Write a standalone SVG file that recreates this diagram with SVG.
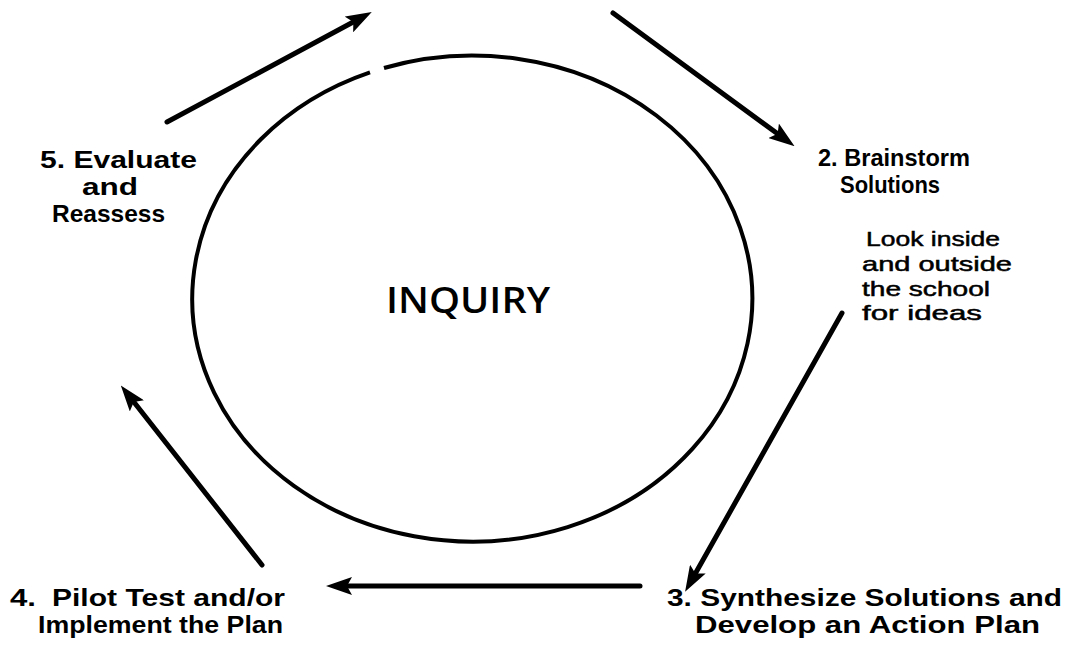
<svg xmlns="http://www.w3.org/2000/svg" width="1069" height="647" viewBox="0 0 1069 647">
<style>
.lbl{font-family:"Liberation Sans",Arial,sans-serif;font-weight:bold;font-size:24px;fill:#000}
.note{font-family:"Liberation Sans",Arial,sans-serif;font-size:21px;fill:#000;stroke:#000;stroke-width:0.5}
.big{font-family:"Open Sans","Liberation Sans",Arial,sans-serif;font-weight:600;font-size:36px;fill:#000}
.conn{stroke:#000;stroke-width:5;fill:none;stroke-linecap:round;marker-end:url(#ah)}
</style>
<defs>
<marker id="ah" markerUnits="userSpaceOnUse" markerWidth="26" markerHeight="18" viewBox="0 0 26 18" refX="16" refY="9" orient="auto">
<path d="M0,0 L26,9 L0,18 L5,9 z" fill="#000"/>
</marker>
</defs>
<rect width="1069" height="647" fill="#fff"/>
<g id="inquiry">
<path d="M 384 68 A 280 243 0 1 1 370 72.4" fill="none" stroke="#000" stroke-width="4"/>
<text class="big" x="386" y="313" textLength="164" lengthAdjust="spacingAndGlyphs">INQUIRY</text>
</g>
<g id="step2">
<text class="lbl" x="818" y="166" textLength="152" lengthAdjust="spacingAndGlyphs">2. Brainstorm</text>
<text class="lbl" x="840" y="193" textLength="100" lengthAdjust="spacingAndGlyphs">Solutions</text>
<text class="note" x="866" y="246" textLength="134" lengthAdjust="spacingAndGlyphs">Look inside</text>
<text class="note" x="862" y="271" textLength="150" lengthAdjust="spacingAndGlyphs">and outside</text>
<text class="note" x="862" y="296" textLength="128" lengthAdjust="spacingAndGlyphs">the school</text>
<text class="note" x="862" y="320" textLength="120" lengthAdjust="spacingAndGlyphs">for ideas</text>
</g>
<g id="step3">
<text class="lbl" x="667" y="606" textLength="395" lengthAdjust="spacingAndGlyphs">3. Synthesize Solutions and</text>
<text class="lbl" x="695" y="633" textLength="345" lengthAdjust="spacingAndGlyphs">Develop an Action Plan</text>
</g>
<g id="step4">
<text class="lbl" x="10" y="606" textLength="26" lengthAdjust="spacingAndGlyphs">4.</text>
<text class="lbl" x="52" y="606" textLength="233" lengthAdjust="spacingAndGlyphs">Pilot Test and/or</text>
<text class="lbl" x="38" y="633" textLength="245" lengthAdjust="spacingAndGlyphs">Implement the Plan</text>
</g>
<g id="step5">
<text class="lbl" x="40" y="168" textLength="157" lengthAdjust="spacingAndGlyphs">5. Evaluate</text>
<text class="lbl" x="82" y="195" textLength="56" lengthAdjust="spacingAndGlyphs">and</text>
<text class="lbl" x="52" y="222" textLength="113" lengthAdjust="spacingAndGlyphs">Reassess</text>
</g>
<g id="connectors">
<line class="conn" x1="167" y1="122" x2="363" y2="16.8"/>
<line class="conn" x1="613" y1="13" x2="786.5" y2="140.3"/>
<line class="conn" x1="842" y1="313" x2="690" y2="583"/>
<line class="conn" x1="640" y1="586" x2="336" y2="586"/>
<line class="conn" x1="262" y1="565" x2="127" y2="393.3"/>
</g>
</svg>
